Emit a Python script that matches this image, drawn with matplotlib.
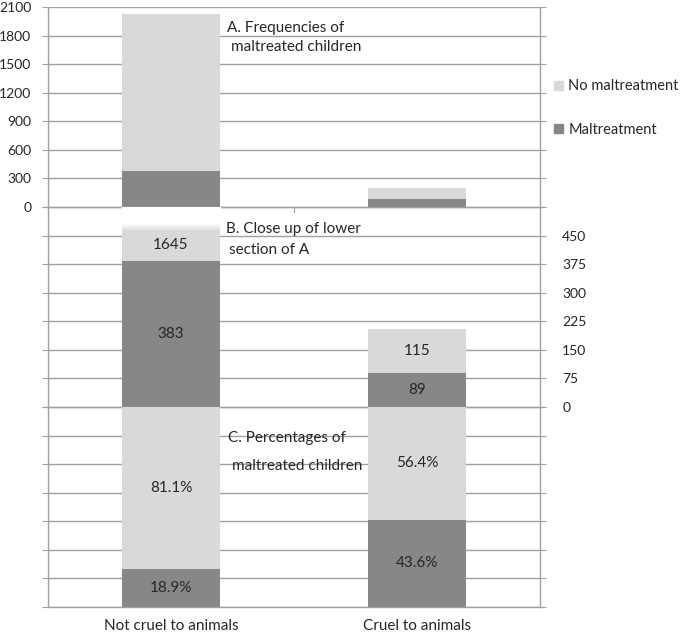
import numpy as np
import matplotlib
matplotlib.use("Agg")
import matplotlib.pyplot as plt
from matplotlib.patches import Patch

plt.rcParams['font.family'] = ['Lato', 'DejaVu Sans']
plt.rcParams['font.size'] = 11

# data
groups = ["Not cruel to animals", "Cruel to animals"]
maltreated = [383, 89]
not_maltreated = [1645, 115]
pct_maltreated = [18.9, 43.6]
pct_not_maltreated = [81.1, 56.4]

freq_ticks = [0, 300, 600, 900, 1200, 1500, 1800, 2100]
close_ticks = [0, 75, 150, 225, 300, 375, 450]
close_top = 525
close_visible = 470   # where the clipped light segment fades out in panel B

DARK = "#878787"
LIGHT = "#d9d9d9"
GRID = "#a0a0a0"
TXT = "#262626"
FS = 11
TICK_FS = 10

W, H = 682, 634
X0, X1 = 48, 540
fig = plt.figure(figsize=(W / 100, H / 100), dpi=100)

def px_axes(ytop, ybot):
    return fig.add_axes([X0 / W, (H - ybot) / H, (X1 - X0) / W, (ybot - ytop) / H])

def px_x(px):
    # horizontal pixel -> data x (axes span 0..2)
    return (px - X0) / (X1 - X0) * 2

ax_a = px_axes(7, 207)
ax_b = px_axes(207, 407)
ax_c = px_axes(407, 607)

x = np.array([0.5, 1.5])
bw = 0.4

def style(ax, ylim, yticks):
    ax.set_xlim(0, 2)
    ax.set_ylim(*ylim)
    ax.set_yticks(yticks)
    ax.grid(axis='y', color=GRID, linewidth=1)
    ax.set_axisbelow(True)
    for s in ['left', 'right', 'bottom']:
        ax.spines[s].set_color(GRID)
        ax.spines[s].set_linewidth(1)
    ax.spines['top'].set_visible(False)
    ax.tick_params(axis='y', which='both', left=True, right=True, direction='out',
                   length=4, color=GRID, labelcolor=TXT, labelsize=TICK_FS)
    ax.patch.set_alpha(0)

def label(ax, lines, px, ys):
    for (txt, dx), y in zip(lines, ys):
        ax.text(px_x(px + dx), y, txt, ha='left', va='center', color=TXT, fontsize=FS, zorder=3)

# Panel A - frequencies
style(ax_a, (0, 2100), freq_ticks)
ax_a.bar(x, maltreated, bw, color=DARK, zorder=2)
ax_a.bar(x, not_maltreated, bw, bottom=maltreated, color=LIGHT, zorder=2)
ax_a.set_xticks([1])
ax_a.tick_params(axis='x', length=4, color=GRID, labelbottom=False)
ax_a.tick_params(axis='y', labelleft=True, labelright=False, pad=8)
label(ax_a, [("A. Frequencies of", 0), ("maltreated children", 4)], 227, [1875, 1675])

# Panel B - close up
style(ax_b, (0, close_top), close_ticks + [close_top])
ax_b.set_yticklabels([str(t) for t in close_ticks] + [""])
ax_b.bar(x, maltreated, bw, color=DARK, zorder=2)
ax_b.bar(x, not_maltreated, bw, bottom=maltreated, color=LIGHT, zorder=2)
# white fade over the clipped top of the light segment
grad = np.ones((60, 1, 4))
grad[:, 0, 3] = np.clip(np.linspace(-0.2, 3.2, 60), 0, 1)
ax_b.imshow(grad, extent=[x[0] - bw / 2, x[0] + bw / 2, close_visible - 14, close_top],
            origin='lower', aspect='auto', zorder=2.5, interpolation='bilinear')
ax_b.set_xlim(0, 2)
ax_b.set_ylim(0, close_top)
ax_b.tick_params(axis='x', bottom=False, labelbottom=False)
ax_b.tick_params(axis='y', labelleft=False, labelright=True, pad=12)
label(ax_b, [("B. Close up of lower", 0), ("section of A", 3)], 226, [468, 413])
for xi, m, n in zip(x, maltreated, not_maltreated):
    ax_b.text(xi, m / 2, str(m), ha='center', va='center', color=TXT, fontsize=FS, zorder=3)
    top = min(m + n, close_visible)
    ax_b.text(xi, (m + top) / 2, str(n), ha='center', va='center', color=TXT, fontsize=FS, zorder=3)

# Panel C - percentages
style(ax_c, (0, 100), np.linspace(0, 100, 8))
ax_c.bar(x, pct_maltreated, bw, color=DARK, zorder=2)
ax_c.bar(x, pct_not_maltreated, bw, bottom=pct_maltreated, color=LIGHT, zorder=2)
ax_c.tick_params(axis='y', labelleft=False, labelright=False)
ax_c.set_xticks(x)
ax_c.set_xticklabels(groups)
ax_c.tick_params(axis='x', length=0, pad=9, labelcolor=TXT, labelsize=FS)
label(ax_c, [("C. Percentages of", 0), ("maltreated children", 4)], 228, [84.5, 70.5])
for xi, m, n in zip(x, pct_maltreated, pct_not_maltreated):
    ax_c.text(xi, m / 2, f"{m:.1f}%", ha='center', va='center', color=TXT, fontsize=FS, zorder=3)
    ax_c.text(xi, m + n / 2, f"{n:.1f}%", ha='center', va='center', color=TXT, fontsize=FS, zorder=3)

# legend
handles = [Patch(color=LIGHT, label="No maltreatment"), Patch(color=DARK, label="Maltreatment")]
fig.legend(handles=handles, loc='upper left', bbox_to_anchor=(550 / W, 1 - 75 / H),
           frameon=False, handlelength=0.6, handleheight=0.6, handletextpad=0.35,
           labelspacing=2.0, fontsize=10.5, labelcolor=TXT, borderpad=0.3, borderaxespad=0)

fig.savefig("out.png", dpi=100)
